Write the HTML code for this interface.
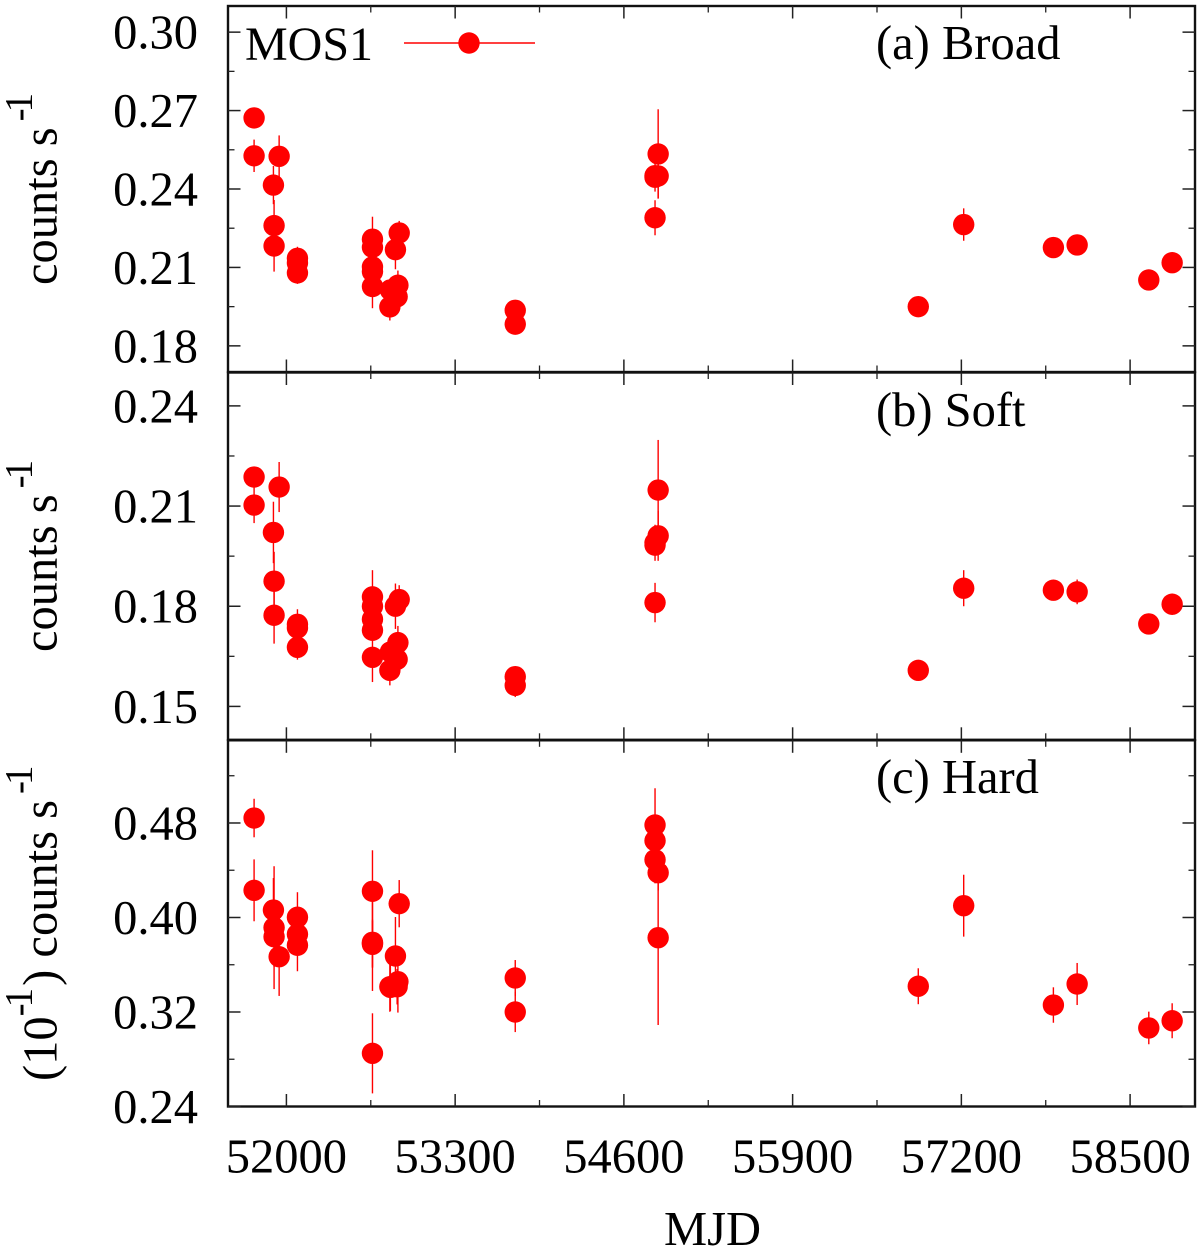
<!DOCTYPE html>
<html>
<head>
<meta charset="utf-8">
<title>MOS1 light curves</title>
<style>
html,body{margin:0;padding:0;background:#fff;}
svg{display:block;}
text{font-family:"Liberation Serif",serif;fill:#000;}
.sup{font-size:39px;letter-spacing:-4px;}
</style>
</head>
<body>
<svg id="chart" xmlns="http://www.w3.org/2000/svg" width="1200" height="1251" viewBox="0 0 1200 1251">
  <rect x="0" y="0" width="1200" height="1251" fill="#fff"/>
  <g id="panels"></g>
  <text x="712.5" y="1245" font-size="48.5" text-anchor="middle">MJD</text>
  <text transform="translate(56.5,285) rotate(-90)" font-size="48.5">counts s<tspan class="sup" dx="6" dy="-25">-1</tspan></text>
  <text transform="translate(56.5,652) rotate(-90)" font-size="48.5">counts s<tspan class="sup" dx="6" dy="-25">-1</tspan></text>
  <text transform="translate(56.5,1081) rotate(-90)" font-size="48.5">(10<tspan class="sup" dy="-25">-1</tspan><tspan dy="25" dx="6">) counts s</tspan><tspan class="sup" dx="6" dy="-25">-1</tspan></text>
  <text x="245" y="60" font-size="48">MOS1</text>
  <text x="876" y="59" font-size="48.5">(a) Broad</text>
  <text x="876" y="426" font-size="48.5">(b) Soft</text>
  <text x="876" y="793" font-size="48.5">(c) Hard</text>
</svg>
<script>
const mjd = [51751,51751,51900,51905,51905,51944,52085,52085,52085,52663,52663,52663,52663,52663,52797,52801,52840,52853,52859,52869,53763,53763,54840,54840,54840,54864,54864,56868,57218,57909,58092,58644,58824];
const broadRate = [0.2672,0.2527,0.2415,0.2260,0.2182,0.2525,0.2135,0.2117,0.2079,0.2208,0.2177,0.2102,0.2084,0.2027,0.1949,0.2014,0.2168,0.1988,0.2032,0.2232,0.1936,0.1883,0.2451,0.2290,0.2445,0.2534,0.2450,0.1950,0.2264,0.2176,0.2186,0.2052,0.2118];
const broadErr = [0.0030,0.0062,0.0073,0.0098,0.0098,0.0080,0.0044,0.0040,0.0042,0.0086,0.0050,0.0050,0.0050,0.0083,0.0052,0.0030,0.0075,0.0040,0.0056,0.0046,0.0030,0.0030,0.0061,0.0067,0.0030,0.0171,0.0085,0.0030,0.0062,0.0020,0.0030,0.0020,0.0020];
const softRate = [0.2187,0.2103,0.2021,0.1875,0.1773,0.2157,0.1746,0.1735,0.1677,0.1828,0.1800,0.1761,0.1728,0.1647,0.1608,0.1663,0.1800,0.1641,0.1691,0.1820,0.1589,0.1563,0.1990,0.1811,0.1983,0.2148,0.2011,0.1608,0.1854,0.1848,0.1843,0.1747,0.1806];
const softErr = [0.0030,0.0054,0.0092,0.0088,0.0085,0.0075,0.0045,0.0030,0.0037,0.0080,0.0030,0.0030,0.0030,0.0074,0.0045,0.0030,0.0068,0.0030,0.0050,0.0043,0.0030,0.0035,0.0054,0.0059,0.0030,0.0150,0.0075,0.0020,0.0054,0.0030,0.0037,0.0030,0.0032];
const hardRate = [0.4842,0.4230,0.4063,0.3914,0.3837,0.3668,0.4002,0.3858,0.3765,0.4222,0.3790,0.3773,0.3782,0.2850,0.3414,0.3409,0.3674,0.3414,0.3457,0.4117,0.3488,0.3200,0.4783,0.4650,0.4489,0.4379,0.3829,0.3418,0.4100,0.3259,0.3437,0.3065,0.3126];
const hardErr = [0.0163,0.0262,0.0271,0.0520,0.0254,0.0332,0.0212,0.0150,0.0220,0.0347,0.0412,0.0200,0.0200,0.0339,0.0212,0.0200,0.0330,0.0150,0.0262,0.0200,0.0152,0.0170,0.0311,0.0200,0.0200,0.0150,0.0739,0.0152,0.0262,0.0150,0.0178,0.0138,0.0148];
const xTickLabels = ["52000","53300","54600","55900","57200","58500"];
const xMinorTicks = [52650,53950,55250,56550,57850];
const broadTickLabels = ["0.18","0.21","0.24","0.27","0.30"];
const broadMinorTicks = [0.195,0.225,0.255,0.285];
const softTickLabels = ["0.15","0.18","0.21","0.24"];
const softMinorTicks = [0.165,0.195,0.225];
const hardTickLabels = ["0.24","0.32","0.40","0.48"];
const hardMinorTicks = [0.28,0.36,0.44,0.52];
const xDomain = [51550,59000];
const broadDomain = [0.17,0.31];
const softDomain = [0.14,0.25];
const hardDomain = [0.24,0.55];

const NS = 'http://www.w3.org/2000/svg';
const LEFT = 228, RIGHT = 1195;
const MAJOR = 12.5, MINOR = 6.5, RADIUS = 10.7, FONT = 48.5;
const root = document.getElementById('panels');

function xScale(v){
  return LEFT + (v - xDomain[0]) * (RIGHT - LEFT) / (xDomain[1] - xDomain[0]);
}
function makeYScale(domain, bottom, top){
  return function(v){
    return bottom - (v - domain[0]) * (bottom - top) / (domain[1] - domain[0]);
  };
}
function shape(tag, attrs, parent){
  const el = document.createElementNS(NS, tag);
  for (const k in attrs) el.setAttribute(k, attrs[k]);
  parent.appendChild(el);
  return el;
}
function tickLine(parent, x1, y1, x2, y2, major){
  const el = shape('line', {x1:x1, y1:y1, x2:x2, y2:y2, stroke:'#222', 'stroke-width': major ? 1.5 : 1.3}, parent);
  
  
}
function drawPanel(name, rate, err, domain, top, bottom, labels, minors, showXLabels){
  const y = makeYScale(domain, bottom, top);
  const g = shape('g', {}, root);
  
  

  const frame = shape('rect', {x:LEFT, y:top, width:RIGHT-LEFT, height:bottom-top, fill:'none', stroke:'#111', 'stroke-width':2.4}, g);
  
  

  xTickLabels.forEach(function(label){
    const px = xScale(Number(label));
    tickLine(g, px, top, px, top + MAJOR, true);
    tickLine(g, px, bottom, px, bottom - MAJOR, true);
    if (showXLabels) {
      const t = shape('text', {x:px, y:1172.5, 'font-size':FONT, 'text-anchor':'middle'}, g);
      
      
      t.textContent = label;
    }
  });
  xMinorTicks.forEach(function(v){
    const px = xScale(v);
    tickLine(g, px, top, px, top + MINOR, false);
    tickLine(g, px, bottom, px, bottom - MINOR, false);
  });
  labels.forEach(function(label){
    const py = y(Number(label));
    tickLine(g, LEFT, py, LEFT + MAJOR, py, true);
    tickLine(g, RIGHT, py, RIGHT - MAJOR, py, true);
    const t = shape('text', {x:198, y:py + 16.5, 'font-size':FONT, 'text-anchor':'end'}, g);
    
    
    t.textContent = label;
  });
  minors.forEach(function(v){
    const py = y(v);
    tickLine(g, LEFT, py, LEFT + MINOR, py, false);
    tickLine(g, RIGHT, py, RIGHT - MINOR, py, false);
  });
  mjd.forEach(function(m, i){
    const px = xScale(m);
    const bar = shape('line', {x1:px, x2:px, y1:y(rate[i] - err[i]), y2:y(rate[i] + err[i]), stroke:'#f00', 'stroke-width':1.4}, g);
    
    
  });
  mjd.forEach(function(m, i){
    const dot = shape('circle', {cx:xScale(m), cy:y(rate[i]), r:RADIUS, fill:'#f00'}, g);
    
    
  });
}
drawPanel('broad', broadRate, broadErr, broadDomain, 6, 372, broadTickLabels, broadMinorTicks, false);
drawPanel('soft', softRate, softErr, softDomain, 372.5, 739.8, softTickLabels, softMinorTicks, false);
drawPanel('hard', hardRate, hardErr, hardDomain, 740.3, 1106.5, hardTickLabels, hardMinorTicks, true);

const legend = shape('g', {}, root);


const legendLine = shape('line', {x1:404, x2:535, y1:43, y2:43, stroke:'#f00', 'stroke-width':1.4}, legend);


const legendDot = shape('circle', {cx:469, cy:43, r:RADIUS, fill:'#f00'}, legend);


</script>
</body>
</html>
